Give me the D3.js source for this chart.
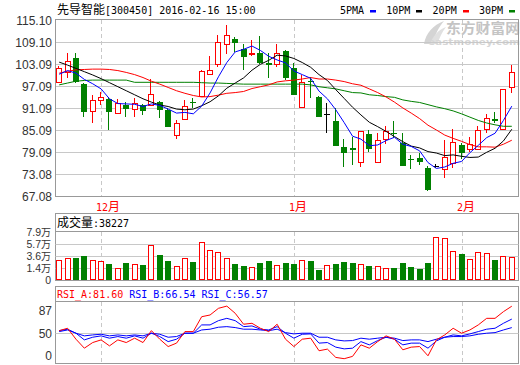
<!DOCTYPE html>
<html><head><meta charset="utf-8">
<script src="https://cdn.jsdelivr.net/npm/d3@7/dist/d3.min.js"></script>
<style>
body{margin:0;background:#fff;}
svg{display:block;}
text{white-space:pre;}
</style></head><body>
<svg id="c" width="520" height="365"></svg>
<script>
// ---------------- data ----------------
const stockTitle = "先导智能[300450] 2016-02-16 15:00";
const dates = ["2015-11-24","2015-11-25","2015-11-26","2015-11-27","2015-11-30",
"2015-12-01","2015-12-02","2015-12-03","2015-12-04","2015-12-07","2015-12-08","2015-12-09","2015-12-10","2015-12-11",
"2015-12-14","2015-12-15","2015-12-16","2015-12-17","2015-12-18","2015-12-21","2015-12-22","2015-12-23","2015-12-24","2015-12-25",
"2015-12-28","2015-12-29","2015-12-30","2015-12-31",
"2016-01-04","2016-01-05","2016-01-06","2016-01-07","2016-01-08","2016-01-11","2016-01-12","2016-01-13","2016-01-14","2016-01-15",
"2016-01-18","2016-01-19","2016-01-20","2016-01-21","2016-01-22","2016-01-25","2016-01-26","2016-01-27","2016-01-28","2016-01-29",
"2016-02-01","2016-02-02","2016-02-03","2016-02-04","2016-02-05","2016-02-15","2016-02-16"];
const monthLabels = {"12":"12月","01":"1月","02":"2月"};
const opens  = [98.3,101.0,104.6,97.6,90.3,93.3,93.5,89.8,91.9,90.7,91.9,91.9,92.6,90.5,83.7,88.0,92.6,94.4,100.3,103.1,108.5,109.9,107.1,105.7,106.2,103.3,103.0,106.6,101.9,91.3,98.4,94.2,89.5,87.6,80.4,80.1,76.3,84.0,76.4,82.6,84.4,81.5,77.2,77.5,74.7,75.4,74.4,76.2,81.0,79.8,79.8,85.3,88.0,85.3,96.7];
const highs  = [102.5,106.0,106.2,97.9,94.6,95.5,94.0,93.5,92.8,93.7,92.2,98.9,93.1,91.0,87.8,93.3,93.7,101.4,105.3,111.0,113.7,110.4,108.5,109.6,110.7,106.0,108.5,106.9,103.3,100.1,99.6,94.5,92.4,91.0,82.6,83.3,84.8,85.1,84.2,86.2,87.5,84.4,78.3,78.7,75.3,75.8,82.4,85.3,81.5,83.1,86.2,89.5,90.1,96.2,102.8];
const lows   = [97.9,99.2,98.0,88.7,86.9,91.9,85.1,89.6,88.7,88.5,89.2,91.6,88.3,85.8,82.6,87.9,91.0,94.0,100.1,102.4,105.7,106.5,101.5,105.3,103.0,99.2,102.2,98.7,94.6,91.0,93.7,88.5,84.2,80.7,75.1,75.5,75.1,79.2,76.3,81.3,82.8,75.3,74.5,75.5,68.5,74.6,71.9,74.8,77.1,79.2,79.6,84.4,86.9,85.0,95.3];
const closes = [101.9,104.0,98.3,90.1,93.3,94.2,90.1,92.4,90.7,92.4,90.4,94.9,90.5,85.8,86.9,91.7,92.5,101.2,101.5,109.0,111.0,108.9,104.9,106.0,103.3,102.9,106.0,99.2,94.6,98.1,98.1,88.6,89.5,80.8,78.7,79.5,84.7,79.8,82.4,84.9,83.9,75.4,76.9,76.3,68.7,75.4,77.6,81.7,78.7,81.2,85.1,88.3,87.6,96.2,100.8];
const ma5  = [100.3,101.3,100.6,98.9,97.7,96.3,93.6,92.3,92.2,92.1,91.5,92.2,91.8,90.8,89.7,89.9,89.5,91.6,95.2,99.6,103.5,106.4,107.1,108.0,106.8,105.2,104.2,103.4,101.2,100.2,99.2,95.7,93.6,90.6,87.1,83.4,82.6,80.8,81.0,82.2,83.1,81.2,80.6,79.4,76.2,74.6,75.0,76.0,76.5,78.9,80.9,83.0,84.2,87.7,91.6];
const ma10 = [103.6,102.8,101.9,101.0,100.1,99.1,98.0,96.9,95.8,94.7,93.6,92.7,91.9,91.5,90.8,90.6,90.8,91.7,92.8,94.4,96.5,97.9,99.3,101.4,103.0,104.1,105.5,105.3,104.6,103.5,102.2,100.2,98.6,96.1,93.7,91.3,89.2,87.2,86.0,84.7,83.3,81.9,80.7,80.2,79.2,78.8,78.1,78.3,77.9,77.6,77.7,79.0,80.1,82.1,85.3];
const ma20 = [100.6,101.1,101.5,101.6,101.7,101.7,101.6,101.3,100.8,100.2,99.4,98.4,97.6,96.7,95.8,95.1,94.5,94.1,94.2,94.6,95.1,95.3,95.6,96.4,96.9,97.4,98.2,98.5,98.7,99.0,99.4,99.0,99.0,98.7,98.3,97.7,97.3,96.3,95.3,94.1,92.7,91.1,89.7,88.2,86.4,85.1,83.7,82.8,82.0,81.1,80.5,80.5,80.4,81.2,82.3];
const ma30 = [97.4,97.9,98.4,98.6,98.7,98.7,98.7,98.7,98.7,98.1,98.1,98.1,98.1,98.1,98.1,98.1,98.1,98.0,97.9,97.9,97.8,97.7,97.6,97.6,97.6,97.6,97.6,97.6,97.6,97.6,97.4,96.9,96.6,96.3,95.8,95.3,95.2,94.7,94.5,94.2,94.0,93.3,92.9,92.6,92.0,91.4,90.9,90.3,89.5,88.6,87.7,87.0,86.5,86.1,86.1];
const maNames  = ["5PMA","10PM","20PM","30PM"];
const maColors = ["#0000ff","#000000","#ff0000","#008000"];
const volumes = [3.29,3.62,3.67,3.95,3.29,3.13,2.63,1.93,2.80,2.63,2.47,5.76,4.11,3.13,2.30,3.62,2.96,6.20,4.94,4.61,3.62,2.63,2.30,2.14,2.80,3.13,2.47,2.80,2.63,3.29,3.13,1.65,2.47,2.63,2.96,2.80,2.63,2.30,2.30,1.98,1.98,2.80,2.14,1.81,2.80,7.08,6.91,4.77,4.28,3.46,4.61,4.44,3.29,3.95,3.8227];
const rsiA = [53.0,55.8,43.0,32.5,39.1,42.2,35.2,42.2,39.1,44.2,39.1,53.0,43.0,34.4,38.4,51.9,51.9,69.3,71.3,79.1,81.7,73.3,60.5,61.6,55.8,51.9,60.5,43.0,34.4,43.0,44.2,29.5,31.4,21.7,20.2,22.9,36.4,32.5,40.2,46.9,43.0,30.6,33.7,34.4,23.6,42.2,48.0,55.8,50.0,53.8,59.7,67.4,67.4,75.2,81.60];
const rsiB = [53.0,54.7,50.0,42.2,45.3,46.9,44.2,46.1,44.2,46.9,44.2,50.0,46.1,40.2,43.0,50.0,50.0,59.7,59.7,64.7,67.4,64.7,57.7,58.5,54.7,53.8,57.7,50.0,44.2,48.8,49.2,38.4,39.1,33.7,31.7,32.5,40.2,36.4,41.4,45.3,43.0,36.4,38.4,38.4,32.5,41.0,45.3,48.0,46.9,49.2,51.9,54.7,55.8,61.6,66.54];
const rsiC = [51.9,53.8,50.0,46.9,48.0,48.8,46.9,48.0,46.9,48.0,46.9,50.0,48.8,45.3,46.1,50.0,50.0,53.8,54.7,57.0,57.7,56.6,54.7,54.7,53.8,53.0,54.7,50.7,49.2,50.0,50.0,45.3,45.3,42.2,41.0,41.4,44.2,43.0,44.2,45.3,44.2,41.4,42.2,42.2,40.2,43.0,45.3,46.1,46.1,46.9,48.8,50.0,50.7,53.8,56.57];
const rsiNames = ["RSI_A","RSI_B","RSI_C"];
const rsiColors = ["#ff0000","#0000ff","#0000ff"];
const priceTicks = [115.10,109.10,103.09,97.09,91.09,85.09,79.09,73.08,67.08];
const volMax = 7.9;
const volTickLabels = ["7.9万","5.7万","3.6万","1.4万","0"];
const rsiTicks = [87,50,0];

// ---------------- layout ----------------
const svg = d3.select("#c");
const L = 55.5, R = 518.5;
const RED = "#ff0000", GREEN = "#008000", GRID = "#c8c8c8", FRAME = "#999999";
const n = dates.length;
const x = d3.scaleBand().domain(d3.range(n)).range([55, 516]);
const cx = i => x(i) + x.bandwidth() / 2;
const yP = d3.scaleLinear().domain([67.08, 115.10]).range([196, 20]);
const yV = d3.scaleLinear().domain([0, volMax]).range([280, 232]);
const yR = d3.scaleLinear().domain([14, 86.5]).range([364, 302]);
const px = v => Math.round(v) + 0.5;

function mixed(sel, str, xx, yy, color) {
  const t = sel.append("text").attr("x", xx).attr("y", yy).attr("fill", color);
  const runs = str.match(/[\u3000-\u9fff\uff00-\uffef]+|[^\u3000-\u9fff\uff00-\uffef]+/g);
  runs.forEach(r => {
    const cjk = /[\u3000-\u9fff\uff00-\uffef]/.test(r);
    t.append("tspan").text(r)
      .attr("font-family", cjk ? "Noto Sans CJK SC" : "DejaVu Sans Mono")
      .attr("font-size", cjk ? 12 : 10);
  });
  return t;
}

// title
mixed(svg, stockTitle, 57, 14, "#000");

// legend
maNames.forEach((nm, k) => {
  const lx = 340 + k * 46.3;
  mixed(svg, nm, lx, 14, "#000");
  svg.append("rect").attr("x", Math.round(lx + 30)).attr("y", 10).attr("width", 6).attr("height", 2.5).attr("fill", maColors[k]);
});

// watermark
const wm = svg.append("g");
wm.append("path").attr("d", "M424,44 C426,33 433,25 444,21 C439,27 435,34 433,44 Z").attr("fill", "#d4d4d4");
wm.append("path").attr("d", "M430,44 C433,36 438,30 446,27 C442,32 439,38 438,44 Z").attr("fill", "#e0e0e0");
wm.append("text").attr("x", 446).attr("y", 33).attr("font-family", "Noto Sans CJK SC").attr("font-weight", "bold")
  .attr("font-size", 14).attr("fill", "#c4c4c4").attr("textLength", 74).attr("lengthAdjust", "spacingAndGlyphs").text("东方财富网");
wm.append("text").attr("x", 428).attr("y", 45).attr("font-family", "DejaVu Sans").attr("font-weight", "bold")
  .attr("font-size", 9).attr("fill", "#d6d6d6").attr("textLength", 92).attr("lengthAdjust", "spacingAndGlyphs").text("eastmoney.com");

// ---------- main price panel ----------
const gMain = svg.append("g");
priceTicks.forEach(v => {
  const yy = yP(v);
  if (v !== priceTicks[0] && v !== priceTicks[priceTicks.length - 1]) {
    gMain.append("line").attr("x1", L).attr("x2", R).attr("y1", px(yy)).attr("y2", px(yy)).attr("stroke", GRID);
  }
  gMain.append("text").attr("x", 52).attr("y", yy + 5).attr("text-anchor", "end")
    .attr("font-family", "Liberation Sans").attr("font-size", 12).attr("fill", "#333").text(v.toFixed(2));
});

// month dividers
const monthIdx = d3.range(1, n).filter(i => dates[i].slice(5, 7) !== dates[i - 1].slice(5, 7));
monthIdx.forEach(i => {
  const xx = Math.round(cx(i)) + 0.5;
  [[20, 196], [232, 280], [302, 364]].forEach(([a, b]) => {
    svg.append("line").attr("x1", xx).attr("x2", xx).attr("y1", a).attr("y2", b)
      .attr("stroke", GRID).attr("stroke-dasharray", "4,3");
  });
  mixed(svg, monthLabels[dates[i].slice(5, 7)], xx - 5.5, 211, RED);
});

// frame
svg.append("rect").attr("x", L).attr("y", 19.5).attr("width", R - L).attr("height", 177).attr("fill", "none").attr("stroke", FRAME);

// candles
const candles = svg.append("g").attr("shape-rendering", "crispEdges");
d3.range(n).forEach(i => {
  const o = opens[i], c = closes[i], h = highs[i], l = lows[i];
  const col = c > o ? RED : (c < o ? GREEN : "#000");
  const left = Math.round(cx(i) - 3);
  const wx = left + 2.5;
  const yt = yP(Math.max(o, c)), yb = yP(Math.min(o, c));
  if (c > o) {
    candles.append("line").attr("x1", wx).attr("x2", wx).attr("y1", yP(h)).attr("y2", yt).attr("stroke", col);
    candles.append("line").attr("x1", wx).attr("x2", wx).attr("y1", yb).attr("y2", yP(l)).attr("stroke", col);
    candles.append("rect").attr("x", left + 0.5).attr("y", Math.round(yt) + 0.5).attr("width", 5)
      .attr("height", Math.max(1, Math.round(yb) - Math.round(yt))).attr("fill", "#fff").attr("stroke", col);
  } else if (c < o) {
    candles.append("line").attr("x1", wx).attr("x2", wx).attr("y1", yP(h)).attr("y2", yP(l)).attr("stroke", col);
    candles.append("rect").attr("x", left).attr("y", Math.round(yt)).attr("width", 6)
      .attr("height", Math.max(1, Math.round(yb) - Math.round(yt))).attr("fill", col);
  } else {
    candles.append("line").attr("x1", wx).attr("x2", wx).attr("y1", yP(h)).attr("y2", yP(l)).attr("stroke", col);
    candles.append("line").attr("x1", left).attr("x2", left + 6).attr("y1", px(yt)).attr("y2", px(yt)).attr("stroke", col);
  }
});

// moving averages
const maSeries = [ma30, ma20, ma10, ma5];
const maCols = [maColors[3], maColors[2], maColors[1], maColors[0]];
maSeries.forEach((s, k) => {
  svg.append("path").attr("d", d3.line().x((d, i) => cx(i)).y(d => yP(d))(s))
    .attr("fill", "none").attr("stroke", maCols[k]).attr("stroke-width", 1);
});

// ---------- volume panel ----------
svg.append("rect").attr("x", L).attr("y", 213.5).attr("width", R - L).attr("height", 67).attr("fill", "none").attr("stroke", FRAME);
svg.append("line").attr("x1", L).attr("x2", R).attr("y1", 231.5).attr("y2", 231.5).attr("stroke", FRAME);
mixed(svg, "成交量:" + Math.round(volumes[n - 1] * 10000), 57, 227, "#000");
// axis rows are spread in quarters of the panel, labelled as the source shows
volTickLabels.forEach((lab, k) => {
  const yy = yV(volMax * (4 - k) / 4);
  if (k > 0 && k < 4) {
    svg.append("line").attr("x1", L).attr("x2", R).attr("y1", px(yy)).attr("y2", px(yy)).attr("stroke", GRID);
  }
  const t = svg.append("text").attr("x", 51).attr("y", Math.min(yy, 279.5) + 4).attr("text-anchor", "end").attr("fill", "#333");
  const num = lab.replace("万", "");
  t.append("tspan").attr("font-family", "Liberation Sans").attr("font-size", 10.5).text(num);
  if (lab.includes("万")) t.append("tspan").attr("font-family", "Noto Sans CJK SC").attr("font-size", 10).text("万");
});
const vg = svg.append("g").attr("shape-rendering", "crispEdges");
d3.range(n).forEach(i => {
  const up = closes[i] >= opens[i];
  const left = Math.round(cx(i) - 3);
  const top = Math.round(yV(volumes[i]));
  if (up) {
    vg.append("rect").attr("x", left + 0.5).attr("y", top + 0.5).attr("width", 5).attr("height", 280 - top - 1)
      .attr("fill", "#fff").attr("stroke", RED);
  } else {
    vg.append("rect").attr("x", left).attr("y", top).attr("width", 6).attr("height", 280 - top).attr("fill", GREEN);
  }
});

// ---------- RSI panel ----------
svg.append("rect").attr("x", L).attr("y", 286.5).attr("width", R - L).attr("height", 77).attr("fill", "none").attr("stroke", FRAME);
svg.append("line").attr("x1", L).attr("x2", R).attr("y1", 301.5).attr("y2", 301.5).attr("stroke", FRAME);
svg.append("line").attr("x1", L).attr("x2", R).attr("y1", px(yR(50))).attr("y2", px(yR(50))).attr("stroke", GRID);
const rsiSeries = [rsiA, rsiB, rsiC];
const hdr = svg.append("text").attr("x", 57).attr("y", 297.5).attr("font-family", "DejaVu Sans Mono").attr("font-size", 10);
rsiSeries.forEach((s, k) => {
  hdr.append("tspan").attr("fill", rsiColors[k]).text(rsiNames[k] + ":" + s[n - 1].toFixed(2) + (k < 2 ? " " : ""));
});
rsiTicks.forEach(v => {
  const yy = Math.max(310, Math.min(355.5, yR(v)));
  svg.append("text").attr("x", 52).attr("y", yy + 4.5).attr("text-anchor", "end")
    .attr("font-family", "Liberation Sans").attr("font-size", 12).attr("fill", "#333").text(v);
});
[rsiC, rsiB, rsiA].forEach((s, k) => {
  svg.append("path").attr("d", d3.line().x((d, i) => cx(i)).y(d => yR(d))(s))
    .attr("fill", "none").attr("stroke", [rsiColors[2], rsiColors[1], rsiColors[0]][k]).attr("stroke-width", 1);
});
</script>
</body></html>
